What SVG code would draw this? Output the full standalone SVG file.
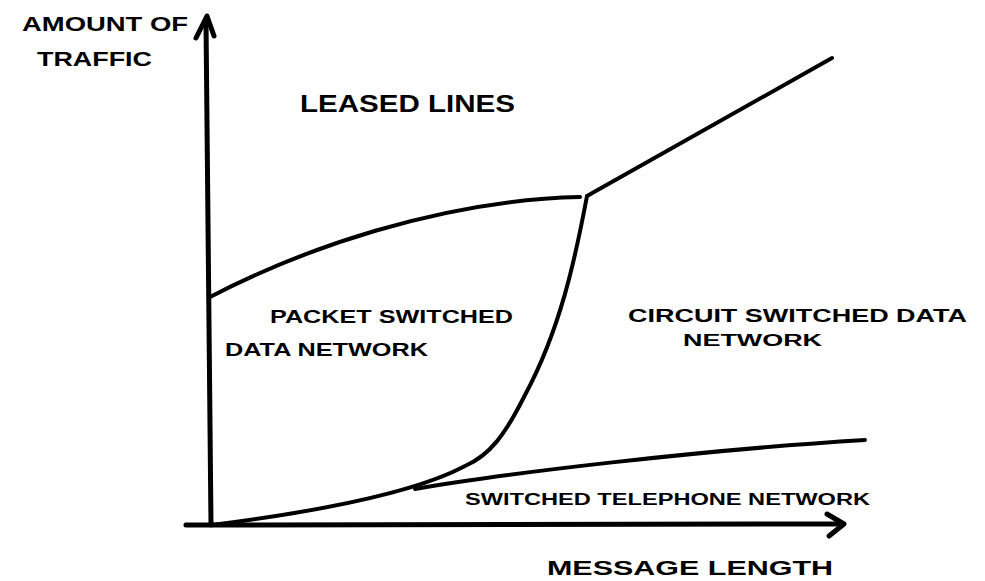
<svg xmlns="http://www.w3.org/2000/svg" width="985" height="581" viewBox="0 0 985 581">
<style>
.ln{fill:none;stroke:#000;stroke-width:4;stroke-linecap:round;stroke-linejoin:round}
.ax{fill:none;stroke:#000;stroke-width:5;stroke-linecap:round;stroke-linejoin:round}
.t{font-family:"Liberation Sans",Arial,sans-serif;font-weight:bold;fill:#000}
</style>
<rect width="985" height="581" fill="#fff"/>
<g id="axes">
<path class="ax" d="M211,525 L206,22"/>
<path class="ax" d="M196,38 L207,16 L214,36"/>
<path class="ax" d="M186,525 L843,524"/>
<path class="ax" d="M827,514 L844,524 L829,536"/>
</g>
<g id="connectors">
<path class="ln" d="M210,297 C300,250 440,200 580,197"/>
<path class="ln" d="M587,196 L832,58"/>
<path class="ln" d="M587,196 C575,260 560,330 525,395 C505,435 490,455 465,466 C420,490 330,510 212,525"/>
<path class="ln" d="M415,489 C500,474 700,450 865,440"/>
</g>
<g id="label-y">
<text class="t" x="22" y="31" font-size="20" textLength="166" lengthAdjust="spacingAndGlyphs">AMOUNT OF</text>
<text class="t" x="37" y="66" font-size="20" textLength="115" lengthAdjust="spacingAndGlyphs">TRAFFIC</text>
</g>
<g id="leased-lines">
<text class="t" x="300" y="112" font-size="24" textLength="215" lengthAdjust="spacingAndGlyphs">LEASED LINES</text>
</g>
<g id="packet-switched">
<text class="t" x="270" y="323" font-size="19" textLength="243" lengthAdjust="spacingAndGlyphs">PACKET SWITCHED</text>
<text class="t" x="225" y="356" font-size="19" textLength="203" lengthAdjust="spacingAndGlyphs">DATA NETWORK</text>
</g>
<g id="circuit-switched">
<text class="t" x="628" y="322" font-size="19" textLength="339" lengthAdjust="spacingAndGlyphs">CIRCUIT SWITCHED DATA</text>
<text class="t" x="683" y="346" font-size="16" textLength="139" lengthAdjust="spacingAndGlyphs">NETWORK</text>
</g>
<g id="telephone">
<text class="t" x="465" y="505" font-size="16" textLength="405" lengthAdjust="spacingAndGlyphs">SWITCHED TELEPHONE NETWORK</text>
</g>
<g id="label-x">
<text class="t" x="547" y="575" font-size="21" textLength="286" lengthAdjust="spacingAndGlyphs">MESSAGE LENGTH</text>
</g>
</svg>
